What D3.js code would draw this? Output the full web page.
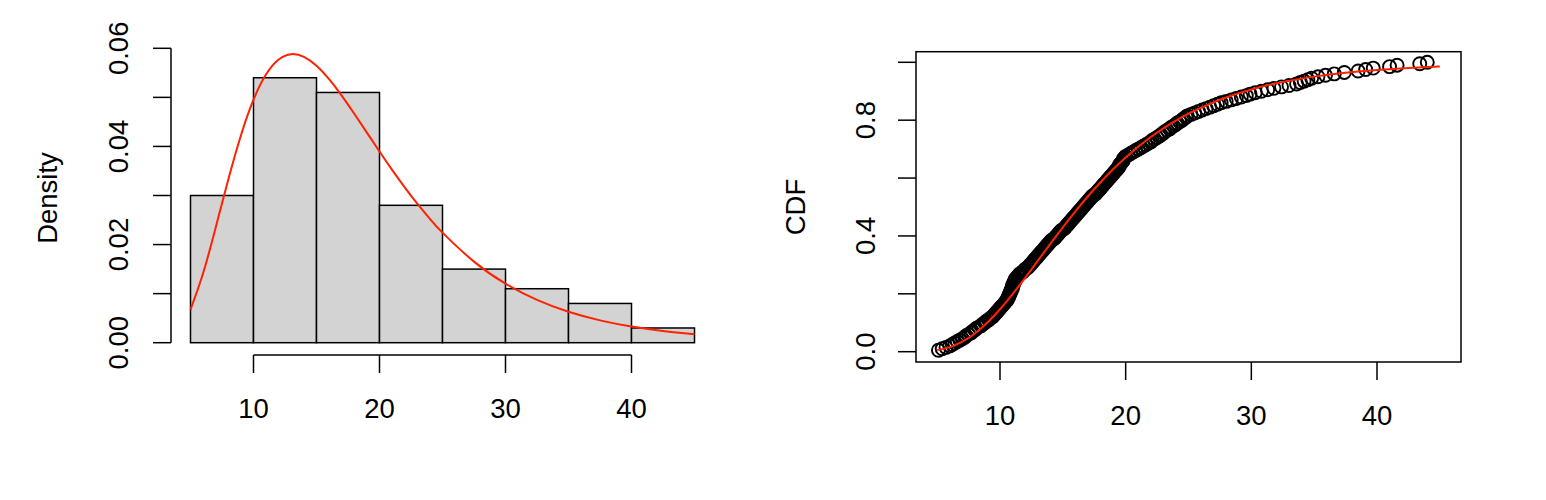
<!DOCTYPE html>
<html><head><meta charset="utf-8">
<script src="https://cdn.jsdelivr.net/npm/d3@7"></script>
<style>
html,body{margin:0;padding:0;background:#fff;}
svg text{font-family:"Liberation Sans",Arial,Helvetica,sans-serif;font-size:27.5px;fill:#000;}
</style></head><body>
<svg id="chart" width="1546" height="500"></svg>
<script>
// ---- data ----
const binEdges = [5,10,15,20,25,30,35,40,45];
const binDensity = [0.030,0.054,0.051,0.028,0.015,0.011,0.008,0.003];
const curveX = [5,6,7,8,9,10,11,12,13,14,15,16,17,18,19,20,21,22,23,24,25,27.5,30,32.5,35,37.5,40,42.5,45];
const densityCurve = [0.00676,0.01416,0.02348,0.03327,0.04224,0.04952,0.05470,0.05772,0.05880,0.05825,0.05643,0.05370,0.05036,0.04666,0.04282,0.03897,0.03523,0.03167,0.02833,0.02525,0.02244,0.01652,0.01204,0.00872,0.00630,0.00455,0.00329,0.00239,0.00173];
const cdfCurve = [0.0055,0.0157,0.0344,0.0628,0.1007,0.1467,0.1991,0.2554,0.3138,0.3725,0.4299,0.4850,0.5371,0.5856,0.6304,0.6713,0.7083,0.7418,0.7718,0.7985,0.8223,0.8707,0.9061,0.9318,0.9505,0.9639,0.9736,0.9807,0.9858];
const ecdfX = [5.1,5.4,5.7,6.0,6.2,6.4,6.6,6.8,7.0,7.2,
7.3,7.5,7.7,7.8,8.0,8.1,8.3,8.5,8.6,8.8,
8.9,9.1,9.2,9.4,9.5,9.6,9.7,9.8,9.9,10.0,
10.1,10.2,10.3,10.4,10.5,10.6,10.6,10.7,10.7,10.8,
10.8,10.9,10.9,11.0,11.0,11.0,11.1,11.1,11.2,11.2,
11.3,11.4,11.5,11.6,11.8,11.9,12.0,12.2,12.3,12.4,
12.5,12.6,12.7,12.8,12.9,13.0,13.1,13.2,13.3,13.4,
13.5,13.6,13.7,13.8,13.9,14.0,14.1,14.3,14.4,14.5,
14.6,14.7,14.8,14.9,
15.1,15.2,15.3,15.4,15.5,15.6,15.7,15.8,15.9,16.0,
16.1,16.2,16.3,16.4,16.5,16.6,16.7,16.8,16.9,17.0,
17.1,17.2,17.3,17.4,17.6,17.7,17.8,17.9,18.0,18.1,
18.2,18.3,18.4,18.5,18.6,18.7,18.8,18.9,19.0,19.1,
19.2,19.3,19.4,19.5,19.5,19.6,19.7,19.8,19.8,19.9,20.0,
20.2,20.4,20.6,20.8,21.0,21.2,21.4,21.6,21.8,22.0,
22.1,22.3,22.5,22.7,22.8,23.0,23.1,23.3,23.5,23.6,
23.8,24.0,24.1,24.3,24.5,24.6,24.8,24.9,
25.2,25.5,25.8,26.1,26.4,26.7,27.0,27.3,27.6,28.0,28.4,28.8,29.2,29.6,29.9,
30.3,30.8,31.3,31.8,32.4,33.0,33.6,33.9,34.2,34.5,34.8,
35.3,35.9,36.6,37.4,38.5,39.1,39.7,
41.0,41.6,43.4,44.0];
const xTicks = [10,20,30,40];
const densTicks = [0,0.01,0.02,0.03,0.04,0.05,0.06];
const densLabels = [0,0.02,0.04,0.06];
const cdfTicks = [0,0.2,0.4,0.6,0.8,1.0];
const cdfLabels = [0,0.4,0.8];
const yTitleLeft = "Density";
const yTitleRight = "CDF";

// ---- drawing ----
const svg = d3.select("#chart");
const RED = "#ff2200";

// Left panel: histogram + density
const xH = d3.scaleLinear().domain([10,40]).range([253.5,631.5]);
const yH = d3.scaleLinear().domain([0,0.06]).range([342.7,48.3]);
const gL = svg.append("g");
const bins = binDensity.map((d,i)=>({x0:binEdges[i],x1:binEdges[i+1],d}));
gL.selectAll("rect.bar").data(bins).join("rect")
  .attr("x",b=>xH(b.x0)).attr("width",b=>xH(b.x1)-xH(b.x0))
  .attr("y",b=>yH(b.d)).attr("height",b=>yH(0)-yH(b.d))
  .attr("fill","#d3d3d3").attr("stroke","#000").attr("stroke-width",1.5);
gL.append("path").datum(curveX.map((x,i)=>[x,densityCurve[i]]))
  .attr("d",d3.line().x(d=>xH(d[0])).y(d=>yH(d[1])).curve(d3.curveNatural))
  .attr("fill","none").attr("stroke",RED).attr("stroke-width",2);
// y axis
const axL = 171;
gL.append("line").attr("x1",axL).attr("x2",axL).attr("y1",yH(densTicks[0])).attr("y2",yH(densTicks[densTicks.length-1]))
  .attr("stroke","#000").attr("stroke-width",1.5);
gL.selectAll("line.yt").data(densTicks).join("line")
  .attr("x1",axL).attr("x2",axL-18).attr("y1",d=>yH(d)).attr("y2",d=>yH(d))
  .attr("stroke","#000").attr("stroke-width",1.5);
gL.selectAll("text.yl").data(densLabels).join("text")
  .attr("transform",d=>`translate(128,${yH(d)}) rotate(-90)`)
  .attr("text-anchor","middle").text(d3.format(".2f"));
gL.append("text").attr("transform",`translate(57,198) rotate(-90)`)
  .attr("text-anchor","middle").text(yTitleLeft);
// x axis
const axB = 355;
gL.append("line").attr("x1",xH(xTicks[0])).attr("x2",xH(xTicks[xTicks.length-1])).attr("y1",axB).attr("y2",axB)
  .attr("stroke","#000").attr("stroke-width",1.5);
gL.selectAll("line.xt").data(xTicks).join("line")
  .attr("x1",d=>xH(d)).attr("x2",d=>xH(d)).attr("y1",axB).attr("y2",axB+18)
  .attr("stroke","#000").attr("stroke-width",1.5);
gL.selectAll("text.xl").data(xTicks).join("text")
  .attr("x",d=>xH(d)).attr("y",axB+63).attr("text-anchor","middle").text(d=>d);

// Right panel: empirical CDF + fitted CDF
const xC = d3.scaleLinear().domain([10,40]).range([1000,1377]);
const yC = d3.scaleLinear().domain([0,1]).range([351.7,62.3]);
const gR = svg.append("g");
const box = {x0:916,x1:1461,y0:51.7,y1:362};
gR.append("rect").attr("x",box.x0).attr("y",box.y0).attr("width",box.x1-box.x0).attr("height",box.y1-box.y0)
  .attr("fill","none").attr("stroke","#000").attr("stroke-width",1.5);
const n = ecdfX.length;
gR.selectAll("circle").data(ecdfX).join("circle")
  .attr("cx",d=>xC(d)).attr("cy",(d,i)=>yC((i+1)/n)).attr("r",6.5)
  .attr("fill","none").attr("stroke","#000").attr("stroke-width",1.9);
gR.append("path").datum(curveX.map((x,i)=>[x,cdfCurve[i]]))
  .attr("d",d3.line().x(d=>xC(d[0])).y(d=>yC(d[1])).curve(d3.curveNatural))
  .attr("fill","none").attr("stroke",RED).attr("stroke-width",2);
gR.selectAll("line.yt").data(cdfTicks).join("line")
  .attr("x1",box.x0).attr("x2",box.x0-18).attr("y1",d=>yC(d)).attr("y2",d=>yC(d))
  .attr("stroke","#000").attr("stroke-width",1.5);
gR.selectAll("text.yl").data(cdfLabels).join("text")
  .attr("transform",d=>`translate(875,${yC(d)}) rotate(-90)`)
  .attr("text-anchor","middle").text(d3.format(".1f"));
gR.append("text").attr("transform",`translate(805,207) rotate(-90)`)
  .attr("text-anchor","middle").text(yTitleRight);
gR.selectAll("line.xt").data(xTicks).join("line")
  .attr("x1",d=>xC(d)).attr("x2",d=>xC(d)).attr("y1",box.y1).attr("y2",box.y1+18)
  .attr("stroke","#000").attr("stroke-width",1.5);
gR.selectAll("text.xl").data(xTicks).join("text")
  .attr("x",d=>xC(d)).attr("y",box.y1+63).attr("text-anchor","middle").text(d=>d);
</script>
</body></html>
